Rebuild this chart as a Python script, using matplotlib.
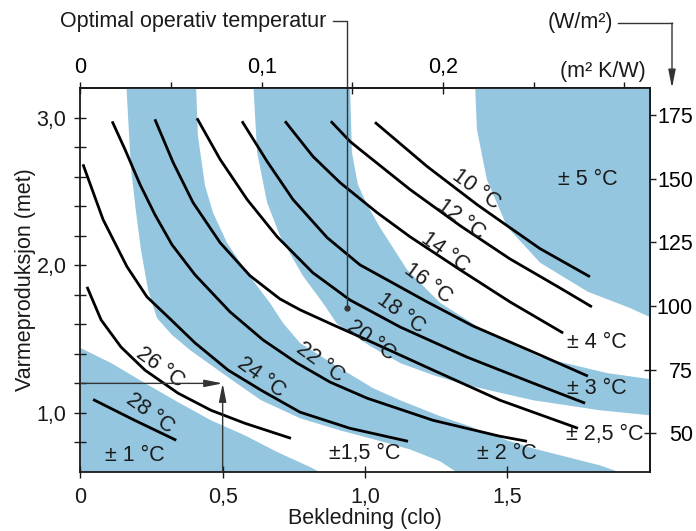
import numpy as np
import matplotlib
matplotlib.use('Agg')
import matplotlib.pyplot as plt

plt.rcParams['font.family'] = ['Liberation Sans', 'DejaVu Sans']
plt.rcParams['font.size'] = 15.5

BLUE = '#94c6df'
INK = '#1a1a1a'
THIN = '#333333'

# unit conversions
w_per_met = 58.0
m2kw_per_clo = 0.157

# optimal operative temperature isotherms: clothing (clo) vs activity (met)
t10_clo = [1.035, 1.218, 1.394, 1.499, 1.615, 1.790]
t10_met = [2.968, 2.669, 2.410, 2.268, 2.112, 1.922]
t12_clo = [0.880, 0.947, 0.982, 1.158, 1.334, 1.509, 1.685, 1.797]
t12_met = [2.975, 2.839, 2.784, 2.513, 2.268, 2.043, 1.846, 1.718]
t14_clo = [0.719, 0.817, 0.912, 1.042, 1.158, 1.334, 1.509, 1.696]
t14_met = [2.975, 2.737, 2.560, 2.357, 2.193, 1.969, 1.752, 1.541]
t16_clo = [0.568, 0.656, 0.747, 0.867, 0.982, 1.218, 1.379, 1.615, 1.783]
t16_met = [2.975, 2.703, 2.445, 2.187, 2.003, 1.752, 1.589, 1.392, 1.249]
t18_clo = [0.410, 0.491, 0.586, 0.691, 0.817, 0.947, 1.123, 1.358, 1.590, 1.773]
t18_met = [2.995, 2.717, 2.445, 2.194, 1.949, 1.765, 1.582, 1.378, 1.202, 1.066]
t20_clo = [0.262, 0.326, 0.396, 0.491, 0.596, 0.701, 0.772, 0.888, 1.007, 1.239, 1.474, 1.748]
t20_met = [2.988, 2.696, 2.424, 2.153, 1.929, 1.772, 1.698, 1.596, 1.494, 1.290, 1.086, 0.896]
t22_clo = [0.112, 0.157, 0.210, 0.262, 0.322, 0.403, 0.526, 0.642, 0.761, 0.877, 1.007, 1.239, 1.474, 1.569]
t22_met = [2.974, 2.784, 2.546, 2.343, 2.139, 1.935, 1.684, 1.494, 1.338, 1.209, 1.100, 0.950, 0.842, 0.808]
t24_clo = [0.0095, 0.080, 0.164, 0.234, 0.319, 0.403, 0.519, 0.635, 0.772, 0.947, 1.151]
t24_met = [2.683, 2.309, 1.990, 1.786, 1.630, 1.474, 1.290, 1.154, 1.005, 0.896, 0.808]
t26_clo = [0.0235, 0.073, 0.143, 0.227, 0.343, 0.459, 0.578, 0.740]
t26_met = [1.854, 1.630, 1.446, 1.290, 1.134, 1.018, 0.930, 0.828]
t28_clo = [0.045, 0.191, 0.337]
t28_met = [1.091, 0.950, 0.815]

# tolerance bands (edges of the shaded zones)
b1_clo = [0.0, 0.108, 0.227, 0.343, 0.459, 0.578, 0.694, 0.810, 0.842]
b1_met = [1.440, 1.338, 1.202, 1.073, 0.950, 0.848, 0.733, 0.631, 0.597]

b2_lo_clo = [0.161, 0.168, 0.178, 0.196, 0.213, 0.238, 0.269, 0.322, 0.385, 0.459,
             0.543, 0.635, 0.772, 0.912, 1.018, 1.158, 1.264, 1.323]
b2_lo_met = [3.25, 2.995, 2.656, 2.356, 2.105, 1.833, 1.643, 1.528, 1.426, 1.324,
             1.209, 1.086, 0.964, 0.882, 0.828, 0.753, 0.672, 0.597]
b2_hi_clo = [0.406, 0.413, 0.438, 0.466, 0.515, 0.586, 0.666, 0.712, 0.772, 0.912,
             1.028, 1.123, 1.264, 1.358, 1.499, 1.590, 1.825, 1.896]
b2_hi_met = [3.25, 2.880, 2.540, 2.357, 2.153, 1.949, 1.745, 1.609, 1.473, 1.303,
             1.168, 1.086, 0.978, 0.916, 0.814, 0.760, 0.645, 0.597]

b3_lo_clo = [0.607, 0.621, 0.656, 0.701, 0.782, 0.852, 0.902, 1.018, 1.123, 1.239,
             1.358, 1.590, 1.825, 2.0]
b3_lo_met = [3.25, 2.765, 2.425, 2.200, 1.928, 1.745, 1.603, 1.453, 1.338, 1.256,
             1.188, 1.086, 1.018, 0.984]
b3_hi_clo = [0.947, 0.954, 0.975, 1.007, 1.053, 1.148, 1.264, 1.414, 1.615, 1.850, 2.0]
b3_hi_met = [3.25, 2.765, 2.547, 2.411, 2.255, 1.969, 1.745, 1.562, 1.378, 1.270, 1.229]

b5_clo = [1.386, 1.393, 1.428, 1.499, 1.615, 1.783, 1.930, 2.0]
b5_met = [3.25, 2.920, 2.580, 2.261, 2.017, 1.820, 1.711, 1.650]

x_ticks = [0, 0.5, 1.0, 1.5]
x_labels = ['0', '0,5', '1,0', '1,5']
y_ticks = [1.0, 2.0, 3.0]
y_labels = ['1,0', '2,0', '3,0']
w_ticks = [50, 75, 100, 125, 150, 175]
w_labels = ['50', '75', '100', '125', '150', '175']
r_ticks = [0, 0.05, 0.10, 0.15, 0.20, 0.25, 0.30]
r_labels = ['0', '', '0,1', '', '0,2', '', '']

W, H = 696, 531
fig = plt.figure(figsize=(W / 100, H / 100), dpi=100)
ax = fig.add_axes([80.3 / W, 59 / H, 569.4 / W, 384 / H])
ax.set_xlim(0, 2.0)
ax.set_ylim(0.6, 3.2)


def fx(px):
    return px / W


def fy(py):
    return 1 - py / H


# shaded bands
ax.fill([0] + b1_clo + [0.842], [0.5] + b1_met + [0.5], color=BLUE, lw=0)
ax.fill(b2_lo_clo + b2_hi_clo[::-1], b2_lo_met + b2_hi_met[::-1], color=BLUE, lw=0)
ax.fill(b3_lo_clo + b3_hi_clo[::-1], b3_lo_met + b3_hi_met[::-1], color=BLUE, lw=0)
ax.fill(b5_clo + [2.0], b5_met + [3.25], color=BLUE, lw=0)

curves = [(t10_clo, t10_met), (t12_clo, t12_met), (t14_clo, t14_met),
          (t16_clo, t16_met), (t18_clo, t18_met), (t20_clo, t20_met),
          (t22_clo, t22_met), (t24_clo, t24_met), (t26_clo, t26_met),
          (t28_clo, t28_met)]
for c, m in curves:
    ax.plot(c, m, color='black', lw=2.0, solid_capstyle='butt',
            solid_joinstyle='round')

# isotherm labels
for txt, x, y in [('10 °C', 1.390, 2.513), ('12 °C', 1.337, 2.308),
                  ('14 °C', 1.281, 2.090), ('16 °C', 1.221, 1.880),
                  ('18 °C', 1.126, 1.677), ('20 °C', 1.021, 1.494),
                  ('22 °C', 0.842, 1.344), ('24 °C', 0.635, 1.243),
                  ('26 °C', 0.280, 1.311), ('28 °C', 0.245, 0.998)]:
    ax.text(x, y, txt, rotation=-36, rotation_mode='anchor',
            ha='center', va='center', color=INK)

# tolerance labels
for txt, x, y in [('± 1 °C', 0.192, 0.713), ('±1,5 °C', 1.0, 0.726),
                  ('± 2 °C', 1.499, 0.726), ('± 2,5 °C', 1.843, 0.855),
                  ('± 3 °C', 1.815, 1.168), ('± 4 °C', 1.815, 1.480),
                  ('± 5 °C', 1.783, 2.581)]:
    ax.text(x, y, txt, ha='center', va='center', color=INK)

# example reading: 1.2 met, 0.5 clo
arr = dict(arrowstyle='-|>,head_length=1.1,head_width=0.22', color=THIN,
           lw=1.0, shrinkA=0, shrinkB=0, mutation_scale=10)
ax.annotate('', xy=(0.5, 1.2), xytext=(0.0, 1.2), arrowprops=arr)
ax.annotate('', xy=(0.5, 1.2), xytext=(0.5, 0.6), arrowprops=arr)

# optimal operative temperature pointer
ax.plot([0.937, 0.937, 0.888], [1.711, 3.654, 3.654], color=THIN, lw=1.0,
        clip_on=False)
ax.plot([0.937], [1.711], 'o', ms=3.5, color=THIN)
fig.text(fx(326), fy(27), 'Optimal operativ temperatur', ha='right',
         va='baseline', color=INK)

# W/m2 pointer
fig.text(fx(613), fy(28), '(W/m²)', ha='right', va='baseline', color=INK)
fig.add_artist(plt.Line2D([fx(618), fx(672)], [fy(23), fy(23)], color=THIN,
                          lw=1.0, transform=fig.transFigure))
ax.annotate('', xy=(fx(672), fy(88)), xytext=(fx(672), fy(23)),
            xycoords='figure fraction', textcoords='figure fraction',
            arrowprops=arr)
fig.text(fx(646), fy(77), '(m² K/W)', ha='right', va='baseline', color=INK)

# axes and ticks
ax.set_xticks(x_ticks)
ax.set_xticklabels(x_labels)
ax.set_yticks(y_ticks)
ax.set_yticklabels(y_labels)
ax.set_yticks(np.arange(0.8, 3.01, 0.2), minor=True)
ax.tick_params(which='both', direction='inout', length=8, width=1.0,
               color=INK, labelcolor=INK)
ax.tick_params(axis='x', pad=7)
ax.tick_params(axis='y', pad=6)
for s in ax.spines.values():
    s.set_linewidth(1.3)
    s.set_color(INK)

top = ax.secondary_xaxis('top', functions=(lambda c: c * m2kw_per_clo,
                                           lambda r: r / m2kw_per_clo))
top.set_xticks(r_ticks)
top.set_xticklabels(r_labels)
top.tick_params(direction='inout', length=8, width=1.0, pad=3, color=INK)

right = ax.secondary_yaxis('right', functions=(lambda m: m * w_per_met,
                                               lambda w: w / w_per_met))
right.set_yticks(w_ticks)
right.set_yticklabels(w_labels, ha='right')
right.tick_params(direction='inout', length=8, width=1.0, pad=27, color=INK)
for sec in (top, right):
    for s in sec.spines.values():
        s.set_linewidth(1.3)
        s.set_color(INK)

ax.set_xlabel('Bekledning (clo)', labelpad=0, color=INK)
ax.set_ylabel('Varmeproduksjon (met)', labelpad=0, color=INK)

fig.savefig('out.png', dpi=100, facecolor='white')
